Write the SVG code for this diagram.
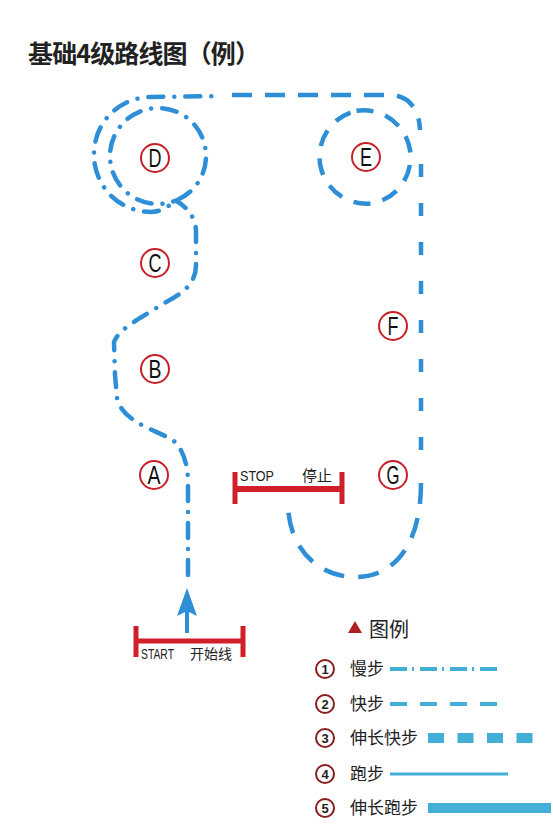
<svg xmlns="http://www.w3.org/2000/svg" width="553" height="834" viewBox="0 0 553 834">
<style>
.route{fill:none;stroke:#2e8fd6;stroke-width:4.5}
.dd{stroke-dasharray:15 11 0.01 11;stroke-linecap:round}
.lbl circle{fill:#fff;stroke:#c8202a;stroke-width:2}
.lbl text{font-family:"Liberation Sans",Arial,sans-serif;font-size:25px;fill:#111;text-anchor:middle}
.bar{fill:none;stroke:#d01f2b}
.small{font-family:"Liberation Sans","Noto Sans CJK SC",sans-serif;font-size:15px;fill:#222}
.cjk{font-family:"Noto Sans CJK SC",sans-serif;fill:#222}
.leg circle{fill:#fff;stroke:#8a1c1c;stroke-width:2}
.leg .num{font-family:"Liberation Sans",sans-serif;font-size:13px;font-weight:bold;fill:#222;text-anchor:middle}
.leg .name{font-family:"Noto Sans CJK SC",sans-serif;font-size:17px;fill:#222}
.lline{fill:none;stroke:#44afd6}
</style>
<rect width="553" height="834" fill="#fff"/>
<text x="28" y="63" class="cjk" font-size="25" font-weight="bold" textLength="232">基础4级路线图（例）</text>

<g id="connectors">
  <!-- slow walk (dash-dot) from start to the D loops -->
  <path class="route dd" d="M188,575 L188,482 C188,465 183,450 175,442 C168,436 150,430 140,424 C128,417 120,410 117,398 L115,375 L114,342 C118,332 128,326 140,318 L168,301 C185,292 196,282 196,265 L196,232 C196,218 188,208 176,200.5 A48,48 0 1 1 206,156 A48,48 0 0 1 176,200.5 C168,207 160,212 151,212 A57,57 0 0 1 94,155 A57,57 0 0 1 151,97 L220,96"/>
  <!-- quick walk top and corner -->
  <path class="route" stroke-dasharray="20 13" d="M232,95 L390,95 C405,95 419,105 420,130"/>
  <!-- E loop -->
  <path class="route" stroke-dasharray="17 12.5" d="M356.5,110.8 A47,47 0 0 1 373.5,203.2 A47,47 0 0 1 356.5,110.8"/>
  <!-- right side -->
  <path class="route" stroke-dasharray="13 26" d="M421,164 L421,470"/>
  <!-- bottom arc to stop -->
  <path class="route" stroke-dasharray="21 14" d="M421,483 C421,540 398,577 355,577 C318,577 288,548 288,503"/>
  <!-- start arrow -->
  <line x1="187" y1="633" x2="187" y2="608" stroke="#2e8fd6" stroke-width="4"/>
  <polygon points="187,588 177,616 187,611 197,616" fill="#2e8fd6"/>
</g>

<g id="node-A" class="lbl"><circle cx="154" cy="475" r="14"/><text x="154" y="484" textLength="13" lengthAdjust="spacingAndGlyphs">A</text></g>
<g id="node-B" class="lbl"><circle cx="155" cy="369" r="14"/><text x="155" y="378" textLength="13" lengthAdjust="spacingAndGlyphs">B</text></g>
<g id="node-C" class="lbl"><circle cx="155" cy="263" r="14"/><text x="155" y="272" textLength="13" lengthAdjust="spacingAndGlyphs">C</text></g>
<g id="node-D" class="lbl"><circle cx="155" cy="158" r="14"/><text x="155" y="167" textLength="13" lengthAdjust="spacingAndGlyphs">D</text></g>
<g id="node-E" class="lbl"><circle cx="366" cy="157" r="14"/><text x="366" y="166" textLength="12" lengthAdjust="spacingAndGlyphs">E</text></g>
<g id="node-F" class="lbl"><circle cx="393" cy="326" r="14"/><text x="393" y="335" textLength="11" lengthAdjust="spacingAndGlyphs">F</text></g>
<g id="node-G" class="lbl"><circle cx="393" cy="475" r="14"/><text x="393" y="484" textLength="13" lengthAdjust="spacingAndGlyphs">G</text></g>

<g id="stop">
  <line class="bar" x1="235" y1="489" x2="342" y2="489" stroke-width="6"/>
  <line class="bar" x1="235" y1="472" x2="235" y2="504" stroke-width="5"/>
  <line class="bar" x1="342" y1="472" x2="342" y2="504" stroke-width="5"/>
  <text class="small" x="240" y="481" textLength="34" lengthAdjust="spacingAndGlyphs">STOP</text>
  <text class="cjk" x="302" y="481" font-size="15">停止</text>
</g>

<g id="start">
  <line class="bar" x1="136" y1="641" x2="243" y2="641" stroke-width="5"/>
  <line class="bar" x1="136" y1="626" x2="136" y2="657" stroke-width="5"/>
  <line class="bar" x1="243" y1="626" x2="243" y2="657" stroke-width="5"/>
  <text class="small" x="141" y="659" textLength="33" lengthAdjust="spacingAndGlyphs">START</text>
  <text class="cjk" x="190" y="659" font-size="14">开始线</text>
</g>

<g id="legend" class="leg">
  <polygon points="348,633 362,633 355,621" fill="#b01e22"/>
  <text class="cjk" x="369" y="637" font-size="20">图例</text>
  <g id="legend-1"><circle cx="325" cy="669" r="9"/><text class="num" x="325" y="673.5">1</text><text class="name" x="350" y="675">慢步</text>
    <line class="lline" x1="390" y1="669" x2="497" y2="669" stroke-width="4" stroke-dasharray="17 5 2 6"/></g>
  <g id="legend-2"><circle cx="325" cy="704" r="9"/><text class="num" x="325" y="708.5">2</text><text class="name" x="350" y="710">快步</text>
    <line class="lline" x1="390" y1="704" x2="497" y2="704" stroke-width="4" stroke-dasharray="17 13"/></g>
  <g id="legend-3"><circle cx="325" cy="738" r="9"/><text class="num" x="325" y="742.5">3</text><text class="name" x="350" y="744">伸长快步</text>
    <line class="lline" x1="428" y1="738" x2="533" y2="738" stroke-width="10" stroke-dasharray="16 13.5"/></g>
  <g id="legend-4"><circle cx="325" cy="774" r="9"/><text class="num" x="325" y="778.5">4</text><text class="name" x="350" y="780">跑步</text>
    <line class="lline" x1="390" y1="774" x2="508" y2="774" stroke-width="3"/></g>
  <g id="legend-5"><circle cx="325" cy="808" r="9"/><text class="num" x="325" y="812.5">5</text><text class="name" x="350" y="814">伸长跑步</text>
    <line class="lline" x1="428" y1="808" x2="551" y2="808" stroke-width="10"/></g>
</g>
</svg>
